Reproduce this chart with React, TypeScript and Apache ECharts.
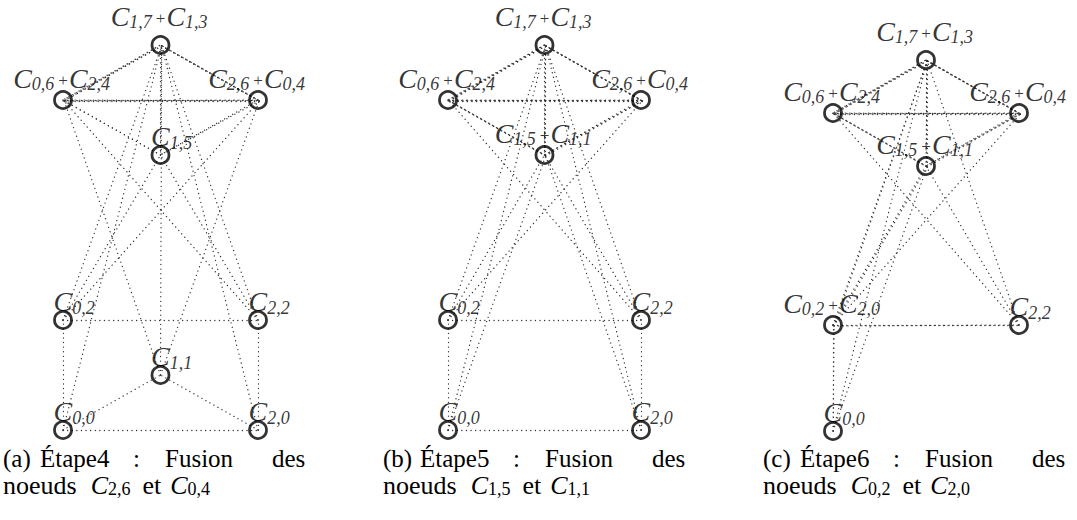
import React, { useEffect, useRef } from "react";
import * as echarts from "echarts";

// Original lattice nodes C_{i,j}: id, column (i) and row (j)
const nodeIds = ["0,0", "2,0", "1,1", "0,2", "2,2", "1,3", "0,4", "2,4", "1,5", "0,6", "2,6", "1,7"];
const nodeCol = [0, 2, 1, 0, 2, 1, 0, 2, 1, 0, 2, 1];
const nodeRow = [0, 0, 1, 2, 2, 3, 4, 4, 5, 6, 6, 7];

// Edges of the original graph
const edgeFrom = [
  "0,0", "0,2", "0,4", "0,6",
  "0,0", "0,2", "0,4", "2,0", "2,2", "2,4", "1,1", "1,3", "1,5",
  "0,0", "2,0", "0,2", "2,2", "1,3", "1,3", "0,4", "2,4", "1,5", "1,5", "0,6", "2,6",
  "0,0", "2,0", "1,1", "1,1", "0,2", "2,2", "1,3", "1,3", "0,4", "2,4",
];
const edgeTo = [
  "2,0", "2,2", "2,4", "2,6",
  "0,2", "0,4", "0,6", "2,2", "2,4", "2,6", "1,3", "1,5", "1,7",
  "1,1", "1,1", "1,3", "1,3", "0,4", "2,4", "1,5", "1,5", "0,6", "2,6", "1,7", "1,7",
  "1,3", "1,3", "0,4", "2,4", "1,5", "1,5", "0,6", "2,6", "1,7", "1,7",
];

// Merged groups in each step (first member gives the position)
const groupsA = [["1,7", "1,3"], ["0,6", "2,4"], ["2,6", "0,4"], ["1,5"], ["0,2"], ["2,2"], ["1,1"], ["0,0"], ["2,0"]];
const groupsB = [["1,7", "1,3"], ["0,6", "2,4"], ["2,6", "0,4"], ["1,5", "1,1"], ["0,2"], ["2,2"], ["0,0"], ["2,0"]];
const groupsC = [["1,7", "1,3"], ["0,6", "2,4"], ["2,6", "0,4"], ["1,5", "1,1"], ["0,2", "2,0"], ["2,2"], ["0,0"]];
const panelGroups = [groupsA, groupsB, groupsC];

// Captions
const panelLetters = ["(a)", "(b)", "(c)"];
const stepNames = ["Étape4", "Étape5", "Étape6"];
const fusedPairs = [["2,6", "0,4"], ["1,5", "1,1"], ["0,2", "2,0"]];

const SERIF = "Liberation Serif";
const memberShift = [[0, 0], [0.012, -0.018]];
const grids = [
  { left: 63, top: 45, width: 195, height: 385 },
  { left: 448, top: 45, width: 193, height: 385 },
  { left: 833, top: 60, width: 186, height: 371 },
];
const panelX = [0, 380, 760];
const wordX = [3, 40, 133, 165, 272];

const idx = (id: string) => nodeIds.indexOf(id);

function anchor(p: number, id: string): number[] {
  const g = panelGroups[p].find((gr) => gr.includes(id))!;
  const lead = idx(g[0]);
  const k = g.indexOf(id);
  return [nodeCol[lead] + memberShift[k][0], nodeRow[lead] + memberShift[k][1]];
}

const labelRich = {
  c: { fontFamily: SERIF, fontStyle: "italic", fontSize: 28, lineHeight: 28, verticalAlign: "top", color: "#000" },
  s: { fontFamily: SERIF, fontStyle: "italic", fontSize: 18, lineHeight: 28, padding: [11, 0, 0, 0], verticalAlign: "top", color: "#000" },
  p: { fontFamily: SERIF, fontSize: 17, lineHeight: 28, padding: [8, 1, 0, 4], verticalAlign: "top", color: "#000" },
};

function labelFor(g: string[]) {
  const text = g.map((id) => `{c|C}{s|${id}}`).join("{p|+}");
  const merged = g.length > 1;
  let position: number[];
  let align = "center";
  if (!merged) {
    position = [0.5, -22.5];
    align = "left";
  } else if (g[0] === "1,7") {
    position = [8.5, -33];
  } else {
    position = [8.5, -26];
  }
  return {
    show: true,
    formatter: text,
    position,
    align,
    verticalAlign: "top",
    fontFamily: SERIF,
    rich: labelRich,
  };
}

export default function App() {
  const ref = useRef<HTMLDivElement>(null);
  useEffect(() => {
    document.body.style.margin = "0";
    const chart = echarts.init(ref.current!, undefined, { renderer: "svg" });
    const series: any[] = [];
    panelGroups.forEach((groups, p) => {
      series.push({
        type: "lines",
        coordinateSystem: "cartesian2d",
        xAxisIndex: p,
        yAxisIndex: p,
        clip: false,
        silent: true,
        lineStyle: { color: "#333", width: 1.3, type: [0.1, 4.5], cap: "round", opacity: 1 },
        data: edgeFrom.map((f, i) => ({ coords: [anchor(p, f), anchor(p, edgeTo[i])] })),
        z: 1,
      });
      series.push({
        type: "scatter",
        xAxisIndex: p,
        yAxisIndex: p,
        clip: false,
        symbol: "circle",
        symbolSize: 17,
        itemStyle: { color: "rgba(0,0,0,0)", borderColor: "#000", borderWidth: 2.8 },
        emphasis: { disabled: true },
        data: groups.map((g) => ({
          value: [nodeCol[idx(g[0])], nodeRow[idx(g[0])]],
          label: labelFor(g),
        })),
        z: 3,
      });
    });

    const graphic: any[] = [];
    panelLetters.forEach((letter, p) => {
      const words = [letter, stepNames[p], ":", "Fusion", "des"];
      words.forEach((w, k) => {
        graphic.push({
          type: "text",
          x: panelX[p] + wordX[k],
          y: 458,
          style: { text: w, fontFamily: SERIF, fontSize: 25, fill: "#000", verticalAlign: "middle", align: "left" },
        });
      });
      const [f1, f2] = fusedPairs[p];
      graphic.push({
        type: "text",
        x: panelX[p] + 3,
        y: 472,
        style: {
          text: `{n|noeuds}{i|C}{s|${f1}}{e|et}{i|C}{s|${f2}}`,
          fontFamily: SERIF,
          fontSize: 26,
          fill: "#000",
          verticalAlign: "top",
          align: "left",
          rich: {
            n: { fontFamily: SERIF, fontSize: 26, lineHeight: 26, padding: [0, 14, 0, 0], verticalAlign: "top", fill: "#000" },
            e: { fontFamily: SERIF, fontSize: 26, lineHeight: 26, padding: [0, 9, 0, 12], verticalAlign: "top", fill: "#000" },
            i: { fontFamily: SERIF, fontStyle: "italic", fontSize: 26, lineHeight: 26, verticalAlign: "top", fill: "#000" },
            s: { fontFamily: SERIF, fontSize: 18, lineHeight: 26, padding: [8, 0, 0, 0], verticalAlign: "top", fill: "#000" },
          },
        },
      });
    });

    chart.setOption({
      animation: false,
      backgroundColor: "#fff",
      grid: grids,
      xAxis: grids.map((_, p) => ({ type: "value", gridIndex: p, min: 0, max: 2, show: false })),
      yAxis: grids.map((_, p) => ({ type: "value", gridIndex: p, min: 0, max: 7, show: false })),
      series,
      graphic,
    });
    return () => chart.dispose();
  }, []);
  return <div ref={ref} style={{ width: 1077, height: 520 }} />;
}
